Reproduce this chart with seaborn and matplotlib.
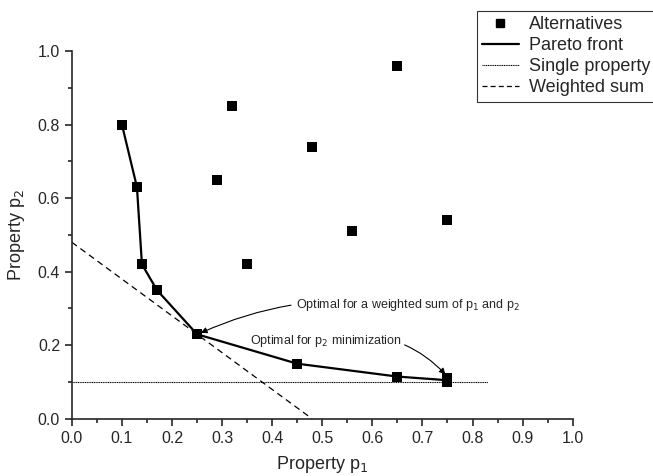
import numpy as np
import pandas as pd
import matplotlib
matplotlib.use("Agg")
from matplotlib import pyplot as plt
from matplotlib.lines import Line2D
import seaborn as sns

# alternatives (all points)
alt_p1 = [0.10, 0.13, 0.14, 0.17, 0.25, 0.45, 0.65, 0.75, 0.75,
          0.29, 0.32, 0.48, 0.35, 0.56, 0.65, 0.75]
alt_p2 = [0.80, 0.63, 0.42, 0.35, 0.23, 0.15, 0.115, 0.11, 0.10,
          0.65, 0.85, 0.74, 0.42, 0.51, 0.96, 0.54]
# pareto front
front_p1 = [0.10, 0.13, 0.14, 0.17, 0.25, 0.45, 0.65, 0.75]
front_p2 = [0.80, 0.63, 0.42, 0.35, 0.23, 0.15, 0.115, 0.105]
# single property line (p2 = 0.1)
single_p1 = [0.0, 0.83]
single_p2 = [0.10, 0.10]
# weighted sum line
wsum_p1 = [0.0, 0.48]
wsum_p2 = [0.48, 0.0]

sns.set_style("ticks")
plt.rcParams['font.family'] = ['Liberation Sans', 'DejaVu Sans']

fig = plt.figure(figsize=(6.53, 4.76), dpi=100)
ax = fig.add_axes([0.110, 0.120, 0.767, 0.773])

alt = pd.DataFrame({"p1": alt_p1, "p2": alt_p2})
front = pd.DataFrame({"p1": front_p1, "p2": front_p2})

sns.lineplot(data=pd.DataFrame({"p1": single_p1, "p2": single_p2}), x="p1", y="p2",
             color="black", lw=0.8, linestyle=(0, (1, 0.6)), ax=ax, sort=False)
sns.lineplot(data=pd.DataFrame({"p1": wsum_p1, "p2": wsum_p2}), x="p1", y="p2",
             color="black", lw=0.9, linestyle=(0, (5, 3.5)), ax=ax, sort=False)
sns.lineplot(data=front, x="p1", y="p2", color="black", lw=1.6, ax=ax, sort=False)
sns.scatterplot(data=alt, x="p1", y="p2", marker="s", s=48, color="black",
                edgecolor="black", linewidth=0, ax=ax, zorder=5)

ax.set_xlim(0, 1.0)
ax.set_ylim(0, 1.0)
ax.set_xticks(np.arange(0, 1.01, 0.1))
ax.set_yticks(np.arange(0, 1.01, 0.2))
ax.set_xticks(np.arange(0, 1.01, 0.05), minor=True)
ax.set_yticks(np.arange(0, 1.01, 0.1), minor=True)
ax.xaxis.set_major_formatter(matplotlib.ticker.FormatStrFormatter('%.1f'))
ax.yaxis.set_major_formatter(matplotlib.ticker.FormatStrFormatter('%.1f'))
ax.tick_params(which='major', length=5, width=1.2, labelsize=11.5, direction='out')
ax.tick_params(which='minor', length=3, width=1.2, direction='out')
for s in ['top', 'right']:
    ax.spines[s].set_visible(False)
for s in ['left', 'bottom']:
    ax.spines[s].set_linewidth(1.2)

ax.set_xlabel("Property p$_1$", fontsize=13, labelpad=6)
ax.set_ylabel("Property p$_2$", fontsize=13, labelpad=8)

ax.annotate("Optimal for a weighted sum of p$_1$ and p$_2$", xy=(0.255, 0.232),
            xytext=(0.447, 0.31), fontsize=9, va='center', ha='left',
            arrowprops=dict(arrowstyle='-|>', color='black', lw=0.8,
                            connectionstyle="arc3,rad=0.15", shrinkA=1, shrinkB=1))
ax.annotate("Optimal for p$_2$ minimization", xy=(0.748, 0.118),
            xytext=(0.355, 0.212), fontsize=9, va='center', ha='left',
            arrowprops=dict(arrowstyle='-|>', color='black', lw=0.8,
                            connectionstyle="arc3,rad=-0.3", shrinkA=0, shrinkB=1))

handles = [
    Line2D([], [], marker='s', color='black', linestyle='none', markersize=5.5),
    Line2D([], [], color='black', lw=1.6),
    Line2D([], [], color='black', lw=0.8, linestyle=(0, (1, 0.6))),
    Line2D([], [], color='black', lw=0.9, linestyle=(0, (4, 2.5))),
]
labels = ["Alternatives", "Pareto front", "Single property", "Weighted sum"]
leg = fig.legend(handles, labels, loc='upper left', bbox_to_anchor=(477 / 653, 1 - 11 / 476),
                 fontsize=13, frameon=True, fancybox=False, edgecolor='black',
                 borderpad=0.3, labelspacing=0.22, handlelength=2.0, handletextpad=0.6,
                 borderaxespad=0)
leg.get_frame().set_linewidth(0.8)

fig.savefig("out.png", dpi=100)
